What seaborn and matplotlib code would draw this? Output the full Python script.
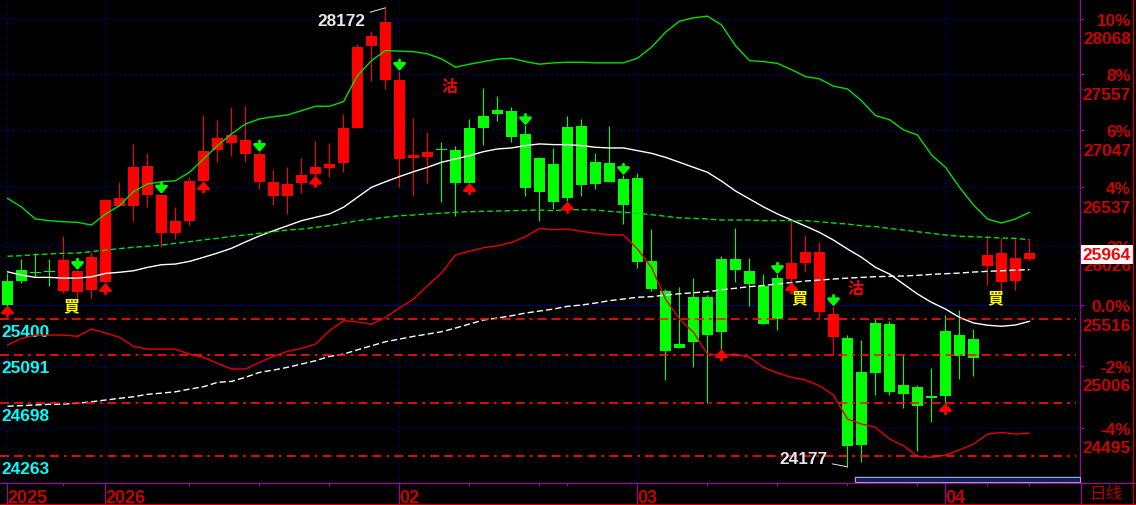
import numpy as np
import pandas as pd
import matplotlib
matplotlib.use('Agg')
import matplotlib.pyplot as plt
import seaborn as sns
from matplotlib.lines import Line2D
from matplotlib.patches import Rectangle
from matplotlib.ticker import FixedLocator, NullLocator

# daily candles (index points)
opens = [25721, 25813, 25800, 25805, 25638, 25629, 25646, 25715, 26376, 26376,
         26472, 26138, 26138, 26240, 26595, 26872, 26935, 26833, 26586, 26461,
         26461, 26575, 26655, 26708, 26753, 27070, 27817, 27504, 26788, 26794,
         26809, 26881, 26870, 27062, 27175, 27230, 27220, 27013, 26797, 26744,
         27076, 27085, 26762, 26753, 26610, 26619, 25893, 25635, 25186, 25584,
         25584, 25910, 25910, 25806, 25681, 25746, 25739, 25880, 25459, 25248,
         25237, 24953, 25363, 25355, 24845, 24826, 24755, 25298, 25262, 25228,
         25851, 25715, 25723, 25910]
highs = [25789, 25910, 25962, 25910, 26112, 25815, 25968, 26434, 26586, 26923,
         26842, 26480, 26361, 26625, 27187, 27139, 27260, 27269, 26851, 26690,
         26720, 26797, 26950, 26932, 27193, 27835, 27956, 28172, 27586, 27160,
         27031, 26938, 26908, 27148, 27426, 27357, 27260, 27090, 26809, 26887,
         27175, 27151, 26842, 27088, 26645, 26664, 26170, 25653, 25672, 25749,
         25601, 25936, 26179, 25919, 25780, 25780, 26237, 26118, 26054, 25505,
         25262, 25220, 25397, 25383, 25102, 24845, 24984, 25431, 25474, 25313,
         26107, 26090, 26095, 26078]
lows = [25512, 25701, 25755, 25678, 25616, 25553, 25578, 25704, 26374, 26243,
        26366, 26014, 26083, 26205, 26590, 26764, 26818, 26764, 26522, 26381,
        26302, 26487, 26640, 26628, 26673, 27065, 27495, 27423, 26537, 26464,
        26578, 26410, 26287, 26575, 26917, 27133, 26943, 26456, 26243, 26346,
        26412, 26464, 26522, 26583, 26214, 25832, 25638, 24889, 25150, 24997,
        24696, 25143, 25710, 25505, 25355, 25304, 25711, 25796, 25397, 25094,
        24177, 24218, 24764, 24764, 24658, 24307, 24541, 24696, 24895, 24920,
        25687, 25638, 25646, 25896]
closes = [25516, 25723, 25790, 25795, 25901, 25806, 25928, 26425, 26443, 26720,
          26723, 26472, 26243, 26592, 26860, 26977, 27004, 26959, 26833, 26584,
          26566, 26646, 26717, 26747, 27070, 27807, 27910, 28040, 27502, 26821,
          26851, 26870, 26578, 26578, 27062, 27193, 26989, 26534, 26499, 26410,
          26438, 26560, 26568, 26586, 26384, 25887, 25653, 25130, 25152, 25206,
          25262, 25289, 25818, 25697, 25358, 25400, 25880, 25974, 25968, 25440,
          24347, 24355, 24947, 24789, 24772, 24670, 24737, 24755, 25088, 25072,
          25945, 25962, 25916, 25964]

# indicator lines
upper_band = [26440, 26363, 26258, 26243, 26234, 26229, 26205, 26302, 26375, 26498,
              26566, 26586, 26595, 26670, 26788, 26908, 27013, 27103, 27148, 27169,
              27184, 27223, 27263, 27263, 27305, 27544, 27681, 27774, 27768, 27764,
              27743, 27697, 27620, 27648, 27672, 27694, 27703, 27672, 27648, 27660,
              27666, 27666, 27660, 27660, 27660, 27703, 27805, 27944, 28047, 28078,
              28094, 28012, 27819, 27681, 27672, 27655, 27598, 27534, 27513, 27446,
              27421, 27314, 27178, 27142, 27049, 27004, 26824, 26714, 26537, 26381,
              26258, 26223, 26258, 26317]
mid_ma = [25800, 25772, 25752, 25752, 25746, 25746, 25757, 25786, 25796, 25809,
          25838, 25861, 25867, 25890, 25925, 25962, 26003, 26058, 26110, 26156,
          26199, 26243, 26273, 26302, 26361, 26449, 26537, 26586, 26632, 26675,
          26714, 26759, 26788, 26818, 26854, 26878, 26887, 26908, 26923, 26917,
          26917, 26908, 26893, 26887, 26887, 26863, 26839, 26803, 26759, 26714,
          26670, 26592, 26504, 26434, 26364, 26302, 26249, 26196, 26141, 26074,
          25997, 25925, 25838, 25781, 25695, 25610, 25539, 25482, 25411, 25364,
          25345, 25336, 25347, 25378]
lower_band = [25178, 25234, 25262, 25262, 25262, 25251, 25313, 25279, 25243, 25167,
              25144, 25144, 25144, 25102, 25075, 25025, 24978, 24978, 25033, 25083,
              25125, 25150, 25186, 25298, 25383, 25374, 25352, 25411, 25491, 25567,
              25681, 25789, 25945, 25977, 26008, 26025, 26054, 26103, 26176, 26164,
              26170, 26150, 26133, 26120, 26118, 25997, 25838, 25567, 25397, 25285,
              25102, 25094, 25102, 25075, 24992, 24945, 24909, 24886, 24839, 24762,
              24565, 24524, 24497, 24402, 24347, 24262, 24254, 24272, 24313, 24361,
              24442, 24456, 24442, 24450]
long_ma = [24670, 24675, 24680, 24686, 24688, 24694, 24707, 24721, 24735, 24748,
           24768, 24778, 24789, 24811, 24831, 24867, 24875, 24909, 24950, 24969,
           24992, 25019, 25047, 25083, 25102, 25138, 25172, 25206, 25228, 25251,
           25270, 25290, 25321, 25355, 25389, 25406, 25425, 25448, 25465, 25482,
           25505, 25516, 25533, 25553, 25567, 25582, 25587, 25601, 25612, 25621,
           25629, 25646, 25659, 25673, 25683, 25695, 25708, 25721, 25729, 25738,
           25746, 25752, 25758, 25761, 25764, 25770, 25778, 25784, 25789, 25798,
           25804, 25809, 25815, 25818]
mid_dash_ma = [25934, 25939, 25948, 25954, 25960, 25962, 25974, 25988, 26000, 26012,
               26020, 26031, 26046, 26060, 26077, 26089, 26107, 26118, 26133, 26147,
               26162, 26170, 26185, 26199, 26220, 26243, 26258, 26273, 26287, 26293,
               26302, 26308, 26317, 26322, 26325, 26328, 26331, 26334, 26337, 26331,
               26340, 26340, 26337, 26325, 26317, 26308, 26296, 26282, 26267, 26264,
               26258, 26249, 26249, 26249, 26243, 26245, 26243, 26243, 26234, 26223,
               26214, 26199, 26191, 26176, 26162, 26147, 26133, 26118, 26107, 26104,
               26098, 26092, 26089, 26077]

month_idx = [0, 7, 28, 45, 67]
month_labels = ['2025', '2026', '02', '03', '04']
minor_idx = [4, 13, 18, 23, 33, 38, 40, 50, 55, 60, 65, 70, 73]

base_price = 25516
pct_levels = [10, 8, 6, 4, 2, 0, -2, -4]
pct_labels = ['10%', '8%', '6%', '4%', '2%', '0.0%', '-2%', '-4%']
price_labels = ['28068', '27557', '27047', '26537', '26026', '25516', '25006', '24495']

support_levels = [25400, 25091, 24698, 24263]

buy_arrow_idx = [0, 7, 14, 22, 33, 40, 51, 56, 67]
sell_arrow_idx = [5, 11, 18, 28, 37, 44, 55, 59]
buy_text_idx = [4, 56, 70]
buy_text_px = [25513, 25582, 25582]
sell_text_idx = [31, 60]
sell_text_px = [27452, 25659]

last_price = 25964
hi_idx, hi_val = 27, 28172
lo_idx, lo_val = 60, 24177

PX = 0.72  # points per pixel at dpi 100
PURPLE = '#a000a0'
AXRED = '#cc0000'
GRIDBLUE = '#0000d8'

sns.set_theme(style='dark', rc={'axes.facecolor': 'black', 'figure.facecolor': 'black',
                                'axes.grid': False, 'lines.scale_dashes': False})
plt.rcParams['font.family'] = ['Liberation Sans', 'Noto Sans CJK TC', 'DejaVu Sans']

df = pd.DataFrame({'idx': np.arange(len(opens)), 'open': opens, 'high': highs,
                   'low': lows, 'close': closes, 'upper': upper_band, 'mid': mid_ma,
                   'lower': lower_band, 'long': long_ma, 'mdash': mid_dash_ma})

W, H = 1136, 506
fig = plt.figure(figsize=(W / 100, H / 100), dpi=100)
ax = fig.add_axes([0, 22 / H, 1080 / W, 484 / H])
ax.set_facecolor('black')
ax.set_yscale('log')
ax.set_xlim(-7.5 / 14, (1080 - 7.5) / 14)
ax.set_ylim(24047, 28255)

# grid
for p in pct_levels:
    lvl = base_price * (1 + p / 100)
    ls = (0, (PX, PX)) if p == 0 else (0, (PX, 3 * PX))
    ax.axhline(lvl, color=GRIDBLUE, lw=PX * 1.2, ls=ls, zorder=1)
for i in month_idx:
    ax.axvline(i, color=GRIDBLUE, lw=PX * 1.2, ls=(0, (PX, 3 * PX)), zorder=1)

# candles
up = df['close'] >= df['open']
cols = np.where(up, '#ff0000', '#00ff00')
ax.vlines(df['idx'], df['low'], df['high'], colors=cols, lw=PX * 1.1, zorder=3)
body_lo = np.minimum(df['open'], df['close'])
body_h = np.maximum(np.abs(df['close'] - df['open']), 8)
ax.bar(df['idx'], body_h, bottom=body_lo, width=11 / 14, color=cols, lw=0, zorder=4)

# indicator lines
sns.lineplot(data=df, x='idx', y='upper', ax=ax, color='#00e000', lw=1.0, zorder=5)
sns.lineplot(data=df, x='idx', y='lower', ax=ax, color='#e80000', lw=1.0, zorder=5)
sns.lineplot(data=df, x='idx', y='mid', ax=ax, color='white', lw=1.0, zorder=5)
sns.lineplot(data=df, x='idx', y='long', ax=ax, color='white', lw=1.0,
             linestyle=(0, (4.5, 2.2)), zorder=5)
sns.lineplot(data=df, x='idx', y='mdash', ax=ax, color='#00e000', lw=1.0,
             linestyle=(0, (4, 2.2)), zorder=5)

# support lines with labels
for lvl in support_levels:
    ax.axhline(lvl, xmin=0, xmax=1076 / 1080, color='#ff1010', lw=1.2,
               ls=(0, (6.5, 3.6, 6.5, 3.6, 2, 3.6)), zorder=6)
    ax.annotate(str(lvl), xy=(0, lvl), xycoords=ax.get_yaxis_transform(),
                xytext=(1, -11), textcoords='offset pixels', ha='left',
                va='center_baseline', color='#00ffff', fontsize=12.4, fontweight='bold')

# signal arrows
arrow_kw = dict(arrowstyle='-|>,head_length=0.4,head_width=0.36', lw=2.0,
                mutation_scale=10, shrinkA=0, shrinkB=0)
for i in buy_arrow_idx:
    ax.annotate('', xy=(i, lows[i]), xytext=(0, -11), textcoords='offset pixels',
                arrowprops=dict(color='#ff0000', **arrow_kw), zorder=7)
for i in sell_arrow_idx:
    ax.annotate('', xy=(i, highs[i]), xytext=(0, 11), textcoords='offset pixels',
                arrowprops=dict(color='#00ff00', **arrow_kw), zorder=7)
for i, p in zip(buy_text_idx, buy_text_px):
    ax.text(i, p, '買', color='#ffff00', fontsize=11.5, fontweight='bold', ha='left',
            va='center', family=['Noto Sans CJK TC'], zorder=8)
for i, p in zip(sell_text_idx, sell_text_px):
    ax.text(i, p, '沽', color='#ff0000', fontsize=11.5, fontweight='bold', ha='left',
            va='center', family=['Noto Sans CJK TC'], zorder=8)

# high / low marks
ax.annotate(str(hi_val), xy=(hi_idx, hi_val), xytext=(-20, -11), textcoords='offset pixels',
            ha='right', va='center_baseline', color='#e8e8e8', fontsize=12.4, fontweight='bold',
            arrowprops=dict(arrowstyle='-', color='#e8e8e8', lw=0.7, shrinkA=1, shrinkB=0),
            zorder=8)
ax.annotate(str(lo_val), xy=(lo_idx, lo_val), xytext=(-20, 10), textcoords='offset pixels',
            ha='right', va='center_baseline', color='#e8e8e8', fontsize=12.4, fontweight='bold',
            arrowprops=dict(arrowstyle='-', color='#e8e8e8', lw=0.7, shrinkA=1, shrinkB=0),
            zorder=8)

# right axis labels
xr = 1131 / 1080
ytr = ax.get_yaxis_transform()
for p, pl, prl in zip(pct_levels, pct_labels, price_labels):
    lvl = base_price * (1 + p / 100)
    ax.annotate(pl, xy=(xr, lvl), xycoords=ytr, ha='right', va='center_baseline',
                color=AXRED, fontsize=12.4, fontweight='bold', annotation_clip=False)
    ax.annotate(prl, xy=(xr, lvl), xycoords=ytr, xytext=(0, -18.5), textcoords='offset pixels',
                ha='right', va='center_baseline', color=AXRED, fontsize=12.4,
                fontweight='bold', annotation_clip=False)
ax.annotate(str(last_price), xy=(xr, last_price), xycoords=ytr, ha='right',
            va='center_baseline', color='#ff0000', fontsize=12.4, fontweight='bold',
            annotation_clip=False, zorder=10,
            bbox=dict(boxstyle='square,pad=0.12', fc='white', ec='none'))

# axes frame and ticks
for s in ['top', 'left']:
    ax.spines[s].set_visible(False)
for s in ['right', 'bottom']:
    ax.spines[s].set_color(PURPLE)
    ax.spines[s].set_linewidth(PX * 1.2)
ax.yaxis.set_major_locator(FixedLocator([base_price * (1 + p / 100) for p in pct_levels]))
ax.yaxis.set_minor_locator(NullLocator())
ax.tick_params(axis='y', which='both', left=False, right=True, labelleft=False,
               labelright=False, direction='out', length=3, width=PX, color=PURPLE)
ax.set_xticks(month_idx)
ax.set_xticklabels(month_labels, ha='left')
ax.set_xticks(minor_idx, minor=True)
ax.tick_params(axis='x', which='major', bottom=True, direction='out', length=22 * PX,
               width=PX * 1.2, color=PURPLE, pad=-16 * PX, labelsize=13, labelcolor='#c80000')
ax.tick_params(axis='x', which='minor', bottom=True, direction='out', length=3 * PX,
               width=PX, color=PURPLE)
for lbl in ax.get_xticklabels():
    lbl.set_fontweight('bold')
ax.set_xlabel('')
ax.set_ylabel('')

# outer frame pieces
fig.add_artist(Line2D([1080.5 / W, 1080.5 / W], [0, 22 / H], transform=fig.transFigure,
                      color=PURPLE, lw=PX * 1.2))
fig.add_artist(Line2D([1080 / W, 1], [22 / H, 22 / H], transform=fig.transFigure,
                      color=PURPLE, lw=PX * 1.2))
fig.add_artist(Line2D([0, 1], [1.5 / H, 1.5 / H], transform=fig.transFigure,
                      color=AXRED, lw=PX * 1.2))
fig.add_artist(Line2D([1132.5 / W, 1132.5 / W], [0, 1], transform=fig.transFigure,
                      color=AXRED, lw=PX * 1.2))
fig.add_artist(Rectangle((854 / W, 23 / H), 226 / W, 6 / H, transform=fig.transFigure,
                         fc='#10205a', ec='none'))
fig.add_artist(Rectangle((854.5 / W, 23.5 / H), 225 / W, 5 / H, transform=fig.transFigure,
                         fill=False, ec='#b8b8b8', lw=PX * 0.9))
fig.text(1089 / W, 11 / H, '日线', color='#b40000', fontsize=12, ha='left', va='center',
         family=['Noto Sans CJK SC'])

fig.savefig('out.png', dpi=100, facecolor='black')
